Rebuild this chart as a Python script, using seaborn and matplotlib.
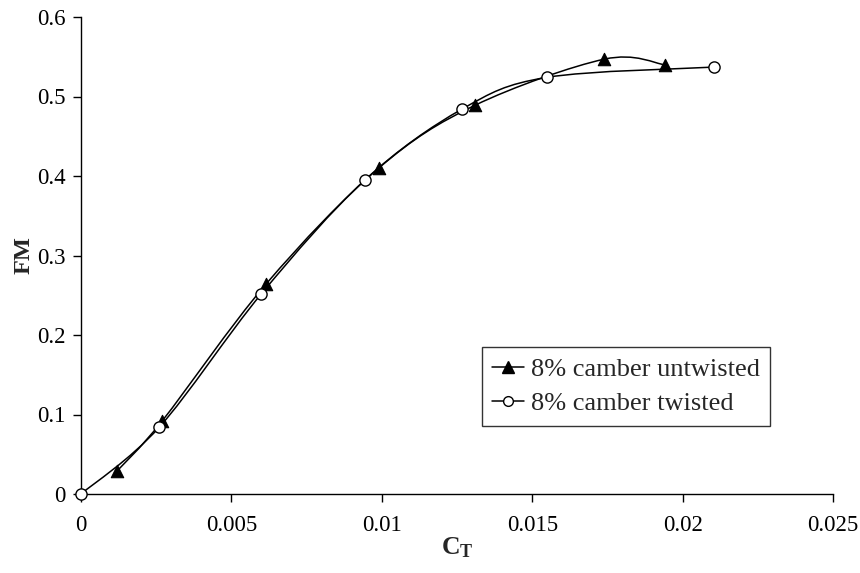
import numpy as np
import matplotlib
matplotlib.use("Agg")
import matplotlib.pyplot as plt
from matplotlib.path import Path
from matplotlib.patches import PathPatch
from matplotlib.lines import Line2D
import seaborn as sns
import pandas as pd

# Figure of merit vs thrust coefficient
ct_untwisted = [0.0012, 0.0027, 0.00615, 0.0099, 0.0131, 0.0174, 0.0194]
fm_untwisted = [0.029, 0.092, 0.264, 0.410, 0.489, 0.547, 0.540]

ct_twisted = [0.0, 0.0026, 0.0060, 0.00944, 0.01266, 0.01548, 0.02104]
fm_twisted = [0.0, 0.084, 0.252, 0.395, 0.484, 0.524, 0.537]

label_untwisted = "8% camber untwisted"
label_twisted = "8% camber twisted"

x_ticks = [0, 0.005, 0.01, 0.015, 0.02, 0.025]
x_ticklabels = ["0", "0.005", "0.01", "0.015", "0.02", "0.025"]
y_ticks = [0, 0.1, 0.2, 0.3, 0.4, 0.5, 0.6]
y_ticklabels = ["0", "0.1", "0.2", "0.3", "0.4", "0.5", "0.6"]

sns.set_theme(style="ticks")
plt.rcParams["font.family"] = ["Liberation Serif", "DejaVu Serif"]
plt.rcParams["mathtext.fontset"] = "custom"
plt.rcParams["mathtext.rm"] = "Liberation Serif"
plt.rcParams["mathtext.bf"] = "Liberation Serif:bold"


def smooth_path(xs, ys):
    """Smoothed polyline through the points using cubic Bezier segments
    (Catmull-Rom style control points)."""
    pts = np.column_stack([xs, ys]).astype(float)
    n = len(pts)
    verts = [pts[0]]
    codes = [Path.MOVETO]
    for i in range(n - 1):
        p0 = pts[i - 1] if i > 0 else pts[i]
        p1 = pts[i]
        p2 = pts[i + 1]
        p3 = pts[i + 2] if i + 2 < n else pts[i + 1]
        c1 = p1 + (p2 - p0) / 6.0
        c2 = p2 - (p3 - p1) / 6.0
        verts += [c1, c2, p2]
        codes += [Path.CURVE4] * 3
    return Path(verts, codes)


fig = plt.figure(figsize=(8.6, 5.73), dpi=100)
ax = fig.add_axes([81 / 860, 79 / 573, 752 / 860, 477 / 573])

for xs, ys in [(ct_untwisted, fm_untwisted), (ct_twisted, fm_twisted)]:
    patch = PathPatch(smooth_path(xs, ys), facecolor="none", edgecolor="black",
                      lw=1.1, zorder=2)
    patch.set_clip_on(False)
    ax.add_patch(patch)

df_u = pd.DataFrame({"CT": ct_untwisted, "FM": fm_untwisted})
df_t = pd.DataFrame({"CT": ct_twisted, "FM": fm_twisted})
sns.scatterplot(data=df_u, x="CT", y="FM", ax=ax, marker="^", s=80,
                color="black", edgecolor="black", linewidth=0.8, zorder=3,
                clip_on=False)
sns.scatterplot(data=df_t, x="CT", y="FM", ax=ax, marker="o", s=65,
                color="white", edgecolor="black", linewidth=1.0, zorder=4,
                clip_on=False)

ax.set_xlim(0, 0.025)
ax.set_ylim(0, 0.6)
ax.set_xticks(x_ticks)
ax.set_xticklabels(x_ticklabels)
ax.set_yticks(y_ticks)
ax.set_yticklabels(y_ticklabels)
ax.tick_params(axis="both", direction="out", length=6, width=1, color="black",
               labelsize=16.5, labelcolor="black")
ax.tick_params(axis="x", pad=9)
ax.tick_params(axis="y", pad=5)

for side in ["top", "right"]:
    ax.spines[side].set_visible(False)
for side in ["left", "bottom"]:
    ax.spines[side].set_color("black")
    ax.spines[side].set_linewidth(1.0)

ax.set_xlabel(r"$\mathbf{C_T}$", fontsize=18.5, labelpad=0)
ax.set_ylabel("FM", fontsize=17.5, fontweight="bold", labelpad=2)

handles = [
    Line2D([0], [0], color="black", lw=1.1, marker="^", markersize=8,
           markerfacecolor="black", markeredgecolor="black"),
    Line2D([0], [0], color="black", lw=1.1, marker="o", markersize=7,
           markerfacecolor="white", markeredgecolor="black"),
]
leg = ax.legend(handles, [label_untwisted, label_twisted], loc="upper left",
                bbox_to_anchor=(0.533, 0.308), borderaxespad=0, fontsize=19,
                frameon=True, fancybox=False, edgecolor="black",
                handlelength=1.2, handletextpad=0.25, borderpad=0.4,
                labelspacing=0.4)
leg.get_frame().set_linewidth(1.0)

fig.savefig("out.png", dpi=100, facecolor="white")
